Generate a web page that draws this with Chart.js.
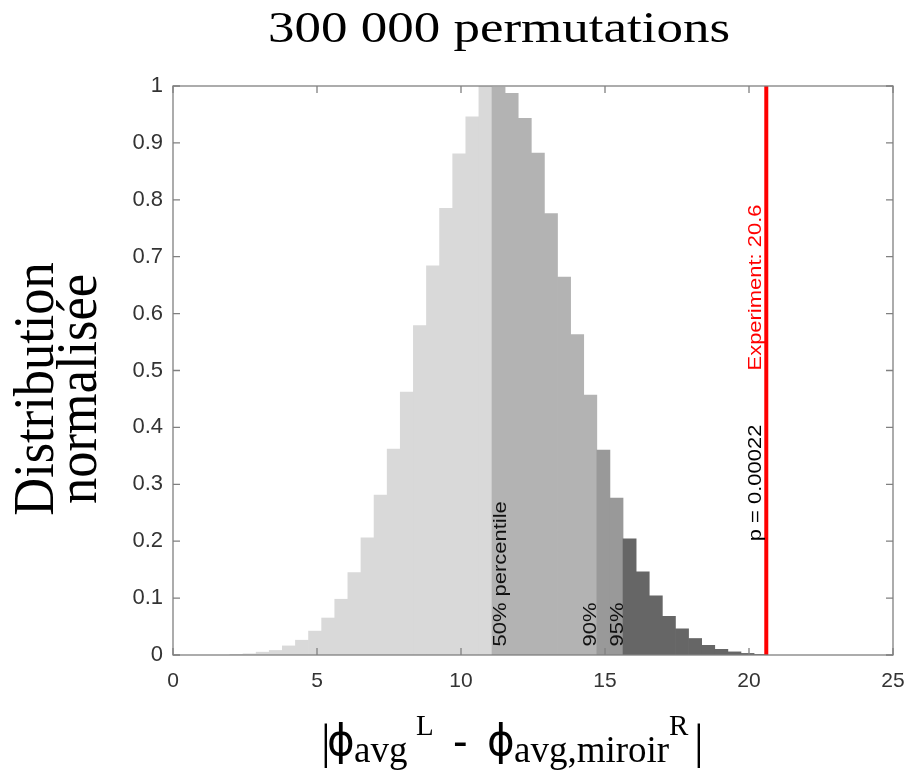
<!DOCTYPE html>
<html>
<head>
<meta charset="utf-8">
<title>300 000 permutations</title>
<script src="https://cdn.jsdelivr.net/npm/chart.js@4.4.1/dist/chart.umd.min.js"></script>
<style>
  html, body { margin: 0; padding: 0; background: #ffffff; }
</style>
</head>
<body>
<canvas id="myChart" width="906" height="776"></canvas>
<script>
// histogram bins (centres) and normalised counts
const binCenters = [
  2.204, 2.659, 3.114, 3.569, 4.024, 4.479, 4.934, 5.389, 5.844, 6.299,
  6.754, 7.209, 7.664, 8.119, 8.574, 9.029, 9.484, 9.939, 10.394, 10.849,
  11.304, 11.759, 12.214, 12.669, 13.124, 13.579, 14.034, 14.489,
  14.944, 15.399,
  15.854, 16.309, 16.764, 17.219, 17.674, 18.129, 18.584, 19.039, 19.494, 19.949, 20.404
];
const binValues = [
  0.001, 0.002, 0.005, 0.008, 0.016, 0.026, 0.042, 0.065, 0.098, 0.145,
  0.206, 0.281, 0.362, 0.462, 0.579, 0.684, 0.785, 0.881, 0.946, 1.0,
  0.998, 0.987, 0.943, 0.882, 0.776, 0.664, 0.563, 0.457,
  0.360, 0.276,
  0.204, 0.146, 0.104, 0.068, 0.046, 0.029, 0.017, 0.010, 0.0055, 0.0028, 0.001
];
const percentiles = [11.077, 14.717, 15.627];
const percentileLabels = ['50% percentile', '90%', '95%'];
const shades = ['#d9d9d9', '#b3b3b3', '#999999', '#666666'];
const experimentValue = 20.6;
const experimentLabel = 'Experiment: 20.6';
const pLabel = 'p = 0.00022';
const xTicks = [0, 5, 10, 15, 20, 25];
const yTicks = [0, 0.1, 0.2, 0.3, 0.4, 0.5, 0.6, 0.7, 0.8, 0.9, 1];
const titleText = '300 000 permutations';
const yTitleLines = ['Distribution', 'normalisée'];

const SANS = '"Liberation Sans", Arial, sans-serif';
const SERIF = '"Liberation Serif", "Times New Roman", serif';
const PHI = '42px "DejaVu Sans", sans-serif';

const barColors = binCenters.map(c => shades[percentiles.filter(p => c > p).length]);

function rotatedText(ctx, text, x, y, font, color, stretch) {
  ctx.save();
  ctx.translate(x, y);
  ctx.rotate(-Math.PI / 2);
  ctx.scale(stretch, 1);
  ctx.font = font;
  ctx.fillStyle = color;
  ctx.textAlign = 'left';
  ctx.textBaseline = 'alphabetic';
  ctx.fillText(text, 0, 0);
  ctx.restore();
}

const decorPlugin = {
  id: 'decor',
  afterDatasetsDraw(chart) {
    const { ctx, chartArea: a, scales: { x, y } } = chart;
    ctx.save();
    // box with inward ticks on all four sides
    ctx.strokeStyle = '#808080';
    ctx.lineWidth = 1.3;
    ctx.strokeRect(a.left, a.top, a.right - a.left, a.bottom - a.top);
    ctx.beginPath();
    xTicks.forEach(v => {
      const px = x.getPixelForValue(v);
      ctx.moveTo(px, a.bottom); ctx.lineTo(px, a.bottom - 7);
      ctx.moveTo(px, a.top); ctx.lineTo(px, a.top + 7);
    });
    yTicks.forEach(v => {
      const py = y.getPixelForValue(v);
      ctx.moveTo(a.left, py); ctx.lineTo(a.left + 7, py);
      ctx.moveTo(a.right, py); ctx.lineTo(a.right - 7, py);
    });
    ctx.stroke();
    ctx.restore();

    const f = '18px ' + SANS;
    const y0 = y.getPixelForValue(0.015);
    rotatedText(ctx, percentileLabels[0], x.getPixelForValue(percentiles[0]) + 14, y0, f, '#111', 1.22);
    rotatedText(ctx, percentileLabels[1], x.getPixelForValue(percentiles[1]) - 0.5, y0, f, '#111', 1.22);
    rotatedText(ctx, percentileLabels[2], x.getPixelForValue(percentiles[2]) - 0.5, y0, f, '#111', 1.22);
    const ex = x.getPixelForValue(experimentValue);
    rotatedText(ctx, experimentLabel, ex - 5, y.getPixelForValue(0.5), f, '#ff0000', 1.22);
    rotatedText(ctx, pLabel, ex - 5, y.getPixelForValue(0.2), f, '#000', 1.22);
  },
  afterDraw(chart) {
    const { ctx } = chart;
    ctx.save();
    ctx.fillStyle = '#000';
    ctx.textBaseline = 'alphabetic';

    // title
    ctx.font = '44px ' + SERIF;
    const tw = ctx.measureText(titleText).width;
    ctx.save();
    ctx.translate(499, 42);
    ctx.scale(462 / tw, 1);
    ctx.textAlign = 'center';
    ctx.fillText(titleText, 0, 0);
    ctx.restore();

    // y title, two lines
    ctx.save();
    ctx.translate(0, 389);
    ctx.rotate(-Math.PI / 2);
    ctx.scale(0.92, 1);
    ctx.font = '57px ' + SERIF;
    ctx.textAlign = 'center';
    ctx.fillText(yTitleLines[0], 0, 53);
    ctx.fillText(yTitleLines[1], 0, 96);
    ctx.restore();

    // x title |phi_avg^L - phi_avg,miroir^R|
    const pieces = [
      { t: '|', font: '48px ' + SERIF, x: 321, y: 758 },
      { t: 'ϕ', font: PHI, x: 327, y: 755 },
      { t: 'avg', font: '37px ' + SERIF, x: 354, y: 762 },
      { t: 'L', font: '29px ' + SERIF, x: 416, y: 735 },
      { t: '-', font: '44px ' + SANS, x: 453, y: 756 },
      { t: 'ϕ', font: PHI, x: 487, y: 755 },
      { t: 'avg,miroir', font: '37px ' + SERIF, x: 514, y: 762 },
      { t: 'R', font: '29px ' + SERIF, x: 669, y: 735 },
      { t: '|', font: '48px ' + SERIF, x: 694, y: 758 }
    ];
    ctx.textAlign = 'left';
    pieces.forEach(p => {
      ctx.font = p.font;
      ctx.fillText(p.t, p.x, p.y);
    });
    ctx.restore();
  }
};

const ctx = document.getElementById('myChart').getContext('2d');

const myChart = new Chart(ctx, {
  type: 'bar',
  data: {
    datasets: [{
      type: 'bar',
      label: 'histogram',
      data: binCenters.map((c, i) => ({ x: c, y: binValues[i] })),
      backgroundColor: barColors,
      borderWidth: 0,
      barPercentage: 1,
      categoryPercentage: 1,
      grouped: false,
      order: 2
    }, {
      type: 'line',
      label: 'experiment',
      data: [{ x: experimentValue, y: 0 }, { x: experimentValue, y: 1 }],
      borderColor: '#ff0000',
      borderWidth: 4,
      pointRadius: 0,
      fill: false,
      order: 1
    }]
  },
  options: {
    responsive: false,
    animation: false,
    layout: {
      padding: { left: 103, right: 13, top: 86, bottom: 71 }
    },
    scales: {
      x: {
        type: 'linear',
        offset: false,
        min: 0,
        max: 25,
        afterBuildTicks: scale => { scale.ticks = xTicks.map(v => ({ value: v })); },
        afterFit: scale => {
          scale.height = 50;
          scale.paddingLeft = 0;
          scale.paddingRight = 0;
        },
        grid: { display: false, drawTicks: false, offset: false },
        border: { display: false },
        ticks: {
          color: '#333333',
          padding: 14,
          font: { family: SANS, size: 21 },
          callback: v => String(v)
        }
      },
      y: {
        min: 0,
        max: 1,
        afterBuildTicks: scale => { scale.ticks = yTicks.map(v => ({ value: v })); },
        afterFit: scale => {
          scale.width = 70;
          scale.paddingTop = 0;
          scale.paddingBottom = 0;
        },
        grid: { display: false, drawTicks: false },
        border: { display: false },
        ticks: {
          color: '#333333',
          padding: 10,
          font: { family: SANS, size: 22 },
          callback: v => String(v)
        }
      }
    },
    plugins: {
      legend: { display: false },
      tooltip: { enabled: false }
    }
  },
  plugins: [decorPlugin]
});
</script>
</body>
</html>
